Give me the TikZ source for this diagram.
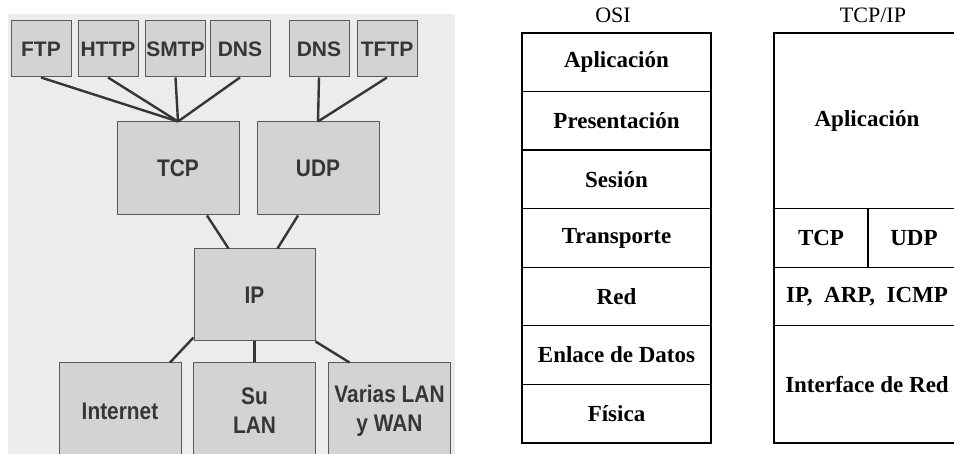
\documentclass[tikz,border=0pt]{standalone}
\usepackage{fontspec}
\setmainfont{Liberation Serif}
\newfontfamily\protofont{Liberation Sans}
\newfontfamily\layerfont{Liberation Sans}[FakeStretch=0.87]
\definecolor{panel}{HTML}{ECECEC}
\definecolor{boxgrey}{HTML}{D3D3D3}
\definecolor{boxline}{HTML}{5A5A5A}
\definecolor{ink}{HTML}{363636}

\begin{document}
\begin{tikzpicture}[x=1pt,y=1pt]
  \path[use as bounding box] (0,0) rectangle (954,454);
  \fill[white] (0,0) rectangle (954,454);
  \fill[panel] (8,0) rectangle (455,440);

  \tikzset{proto/.style={draw=boxline,line width=1pt,fill=boxgrey,minimum width=60pt,
    minimum height=56pt,inner sep=0pt,text=ink,font=\protofont\bfseries\fontsize{21}{24}\selectfont},
    layer/.style={draw=boxline,line width=1pt,fill=boxgrey,minimum width=122pt,minimum height=93pt,
    inner sep=0pt,align=center,text=ink,font=\layerfont\bfseries\fontsize{24}{29}\selectfont},
    link/.style={draw=ink,line width=2.4pt},
    osirow/.style={draw=black,line width=1.2pt,minimum width=189pt,minimum height=58.6pt,
    inner sep=0pt,font=\bfseries\fontsize{23}{26}\selectfont},
    coltitle/.style={font=\fontsize{22}{26}\selectfont}}

  \node[proto] (ftp) at (41,405) {FTP};
  \node[proto] (http) at (108,405) {HTTP};
  \node[proto] (smtp) at (175.5,405) {SMTP};
  \node[proto] (dnsa) at (240,405) {DNS};
  \node[proto] (dnsb) at (319,405) {DNS};
  \node[proto] (tftp) at (387,405) {TFTP};

  \node[layer] (tcp) at (178,285.5) {TCP};
  \node[layer] (udp) at (318,285.5) {UDP};
  \node[layer,minimum width=121pt,minimum height=92pt] (ip) at (254.5,159) {IP};
  \node[layer,minimum height=96pt] (inet) at (120,43) {Internet};
  \node[layer,minimum height=96pt] (lan) at (254.5,43) {Su\\LAN};
  \node[layer,minimum height=96pt] (wan) at (389.5,43) {Varias LAN\\y WAN};

  \draw[link] (ftp.south) -- (tcp.north);
  \draw[link] (http.south) -- (tcp.north);
  \draw[link] (smtp.south) -- (tcp.north);
  \draw[link] (dnsa.south) -- (tcp.north);
  \draw[link] (dnsb.south) -- (udp.north);
  \draw[link] (tftp.south) -- (udp.north);
  \draw[link] ([xshift=29pt]tcp.south) -- ([xshift=-26pt]ip.north);
  \draw[link] ([xshift=-20pt]udp.south) -- ([xshift=23pt]ip.north);
  \draw[link] ([yshift=4pt]ip.south west) -- ([xshift=50pt]inet.north);
  \draw[link] (ip.south) -- (lan.north);
  \draw[link] (ip.south east) -- ([xshift=-40pt]wan.north);

  \node[coltitle] (osititle) at (613,438.5) {OSI};
  \node[coltitle] (tcpiptitle) at (873,438.5) {TCP/IP};

  \node[osirow] (aplic) at (616.5,391.7) {Aplicación};
  \node[osirow] (present) at (616.5,333.1) {Presentación};
  \node[osirow] (sesion) at (616.5,274.6) {Sesión};
  \node[osirow] (transp) at (616.5,216.0) {Transporte};
  \node[osirow] (red) at (616.5,157.4) {Red};
  \node[osirow] (enlace) at (616.5,98.9) {Enlace de Datos};
  \node[osirow] (fisica) at (616.5,40.3) {Física};

  \node[osirow,minimum width=186pt,minimum height=175.7pt] (tapl) at (867,333.1) {Aplicación};
  \node[osirow,minimum width=94pt] (ttcp) at (821,216.0) {TCP};
  \node[osirow,minimum width=92pt] (tudp) at (914,216.0) {UDP};
  \node[osirow,minimum width=186pt] (tip) at (867,157.4) {IP,\ \ ARP,\ \ ICMP};
  \node[osirow,minimum width=186pt,minimum height=117.1pt] (tiface) at (867,69.55) {Interface de Red};
\end{tikzpicture}
\end{document}
